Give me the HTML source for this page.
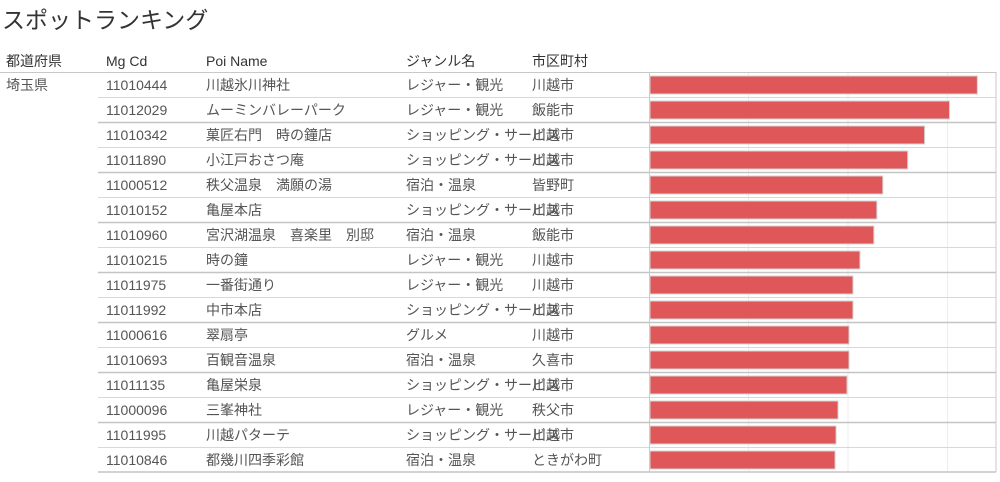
<!DOCTYPE html>
<html><head><meta charset="utf-8"><style>
body{margin:0;width:1000px;height:477px;background:#fff;font-family:"Liberation Sans","Noto Sans CJK JP",sans-serif;overflow:hidden}
svg text{font-family:"Liberation Sans","Noto Sans CJK JP",sans-serif}
</style></head><body>
<svg width="1000" height="477">
<text x="2" y="28" font-size="23" fill="#333">スポットランキング</text>
<g font-size="14" fill="#333">
<text x="6" y="66">都道府県</text><text x="106" y="66">Mg Cd</text><text x="206" y="66">Poi Name</text><text x="406" y="66">ジャンル名</text><text x="532" y="66">市区町村</text>
</g>
<g id="rows"></g>
<g id="bars"></g>
</svg>
<script>
const codes=["11010444","11012029","11010342","11011890","11000512","11010152","11010960","11010215","11011975","11011992","11000616","11010693","11011135","11000096","11011995","11010846"];
const names=["川越氷川神社","ムーミンバレーパーク","菓匠右門　時の鐘店","小江戸おさつ庵","秩父温泉　満願の湯","亀屋本店","宮沢湖温泉　喜楽里　別邸","時の鐘","一番街通り","中市本店","翠扇亭","百観音温泉","亀屋栄泉","三峯神社","川越パターテ","都幾川四季彩館"];
const genres=["レジャー・観光","レジャー・観光","ショッピング・サービス","ショッピング・サービス","宿泊・温泉","ショッピング・サービス","宿泊・温泉","レジャー・観光","レジャー・観光","ショッピング・サービス","グルメ","宿泊・温泉","ショッピング・サービス","レジャー・観光","ショッピング・サービス","宿泊・温泉"];
const cities=["川越市","飯能市","川越市","川越市","皆野町","川越市","飯能市","川越市","川越市","川越市","川越市","久喜市","川越市","秩父市","川越市","ときがわ町"];
const values=[330,302,277,260,235,229,226,212,205,205,201,201,199,190,188,187];
const gridTicks=[100,200,300];
const NS="http://www.w3.org/2000/svg";
const x0=649,top0=72,rowH=25,scale=0.995;
const xs=v=>x0+v*scale;
const ys=i=>top0+i*rowH;
const rows=document.getElementById('rows'),bars=document.getElementById('bars');
function mk(tag,attrs,parent){const e=document.createElementNS(NS,tag);for(const k in attrs)e.setAttribute(k,attrs[k]);parent.appendChild(e);return e;}
const yEnd=ys(values.length);
gridTicks.forEach(t=>{const g=mk('line',{x1:xs(t),x2:xs(t),y1:top0,y2:yEnd,stroke:'#ececec','stroke-width':1},rows);

});
const hl=mk('line',{x1:0,x2:996,y1:top0+0.5,y2:top0+0.5,stroke:'#c8c8c8'},rows);


const pref=mk('text',{x:6,y:ys(0)+18,'font-size':14,fill:'#555'},rows);pref.textContent='埼玉県';


values.forEach((v,i)=>{
const y=ys(i);
const g=mk('g',{},rows);


[[106,codes[i]],[206,names[i]],[406,genres[i]],[532,cities[i]]].forEach(([x,s])=>{const t=mk('text',{x:x,y:y+18,'font-size':14,fill:'#555'},g);t.textContent=s;});
if(i>0){const l=mk('line',{x1:98,x2:996,y1:y+0.5,y2:y+0.5,stroke:i%2==0?'#c4c4c4':'#d8d8d8','stroke-width':i%2==0?1.5:1},g);}
const b=mk('rect',{x:x0+1,y:y+4,width:xs(v)-x0-1,height:18,fill:'#e05759',stroke:'#d4d4d4','stroke-width':1},bars);


});
const bl=mk('line',{x1:98,x2:996,y1:yEnd,y2:yEnd,stroke:'#c4c4c4','stroke-width':1.5},rows);


const lb=mk('line',{x1:x0+0.5,x2:x0+0.5,y1:top0,y2:yEnd,stroke:'#c8c8c8'},rows);


const rb=mk('line',{x1:996,x2:996,y1:top0,y2:yEnd,stroke:'#c8c8c8'},rows);


</script>
</body></html>
